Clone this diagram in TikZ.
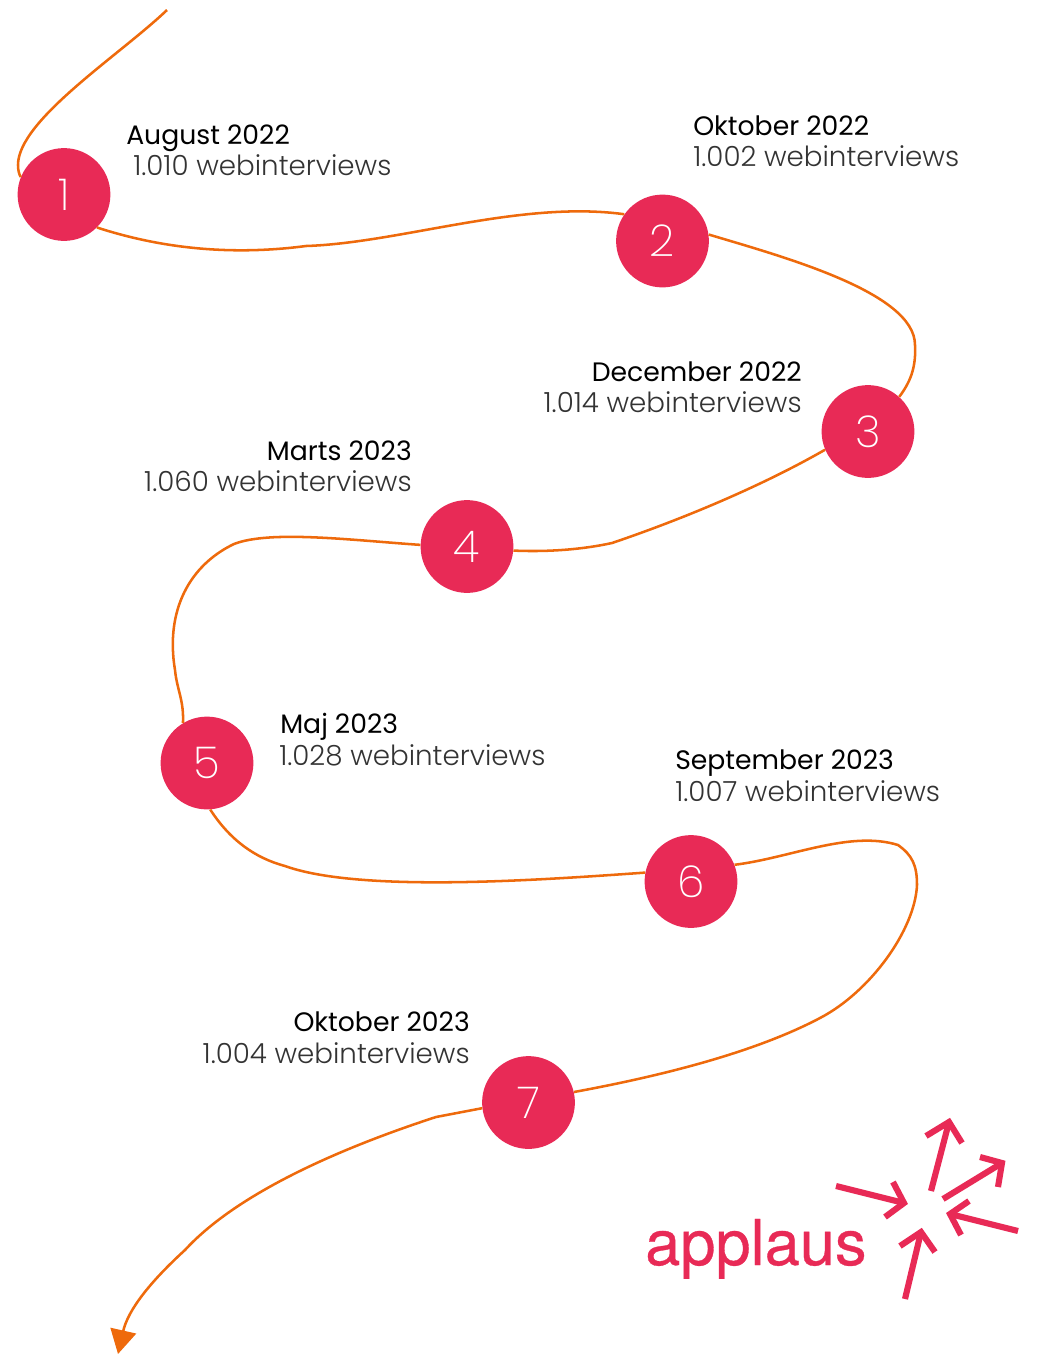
\documentclass[tikz,border=0pt]{standalone}
\usepackage{fontspec}
\setmainfont{Poppins}
\newfontfamily\lightfont{Poppins Light}
\newfontfamily\thinfont{Poppins ExtraLight}
\newfontfamily\logofont[FakeBold=0.5]{TeX Gyre Heros}
\usetikzlibrary{arrows.meta}
\definecolor{stoppink}{HTML}{E82A56}
\definecolor{routeorange}{HTML}{EE6A0C}
\definecolor{countgray}{HTML}{333333}
\tikzset{
  stopnode/.style={circle,fill=stoppink,text=white,minimum size=69.6pt,inner sep=0pt,
    font=\thinfont\fontsize{33}{33}\selectfont},
  route/.style={color=routeorange,line width=1.9pt},
  datelabel/.style={inner sep=0pt,text=black,font=\fontsize{20}{20}\selectfont},
  countlabel/.style={inner sep=0pt,text=countgray,font=\lightfont\fontsize{20.8}{20.8}\selectfont},
  logoarrow/.style={draw=stoppink,line width=4.6pt,miter limit=10}
}
\begin{document}
\begin{tikzpicture}[x=0.75pt,y=-0.75pt]
   \useasboundingbox (0,0) rectangle (1038,1354);

   \node[stopnode] (s1) at (64,194.5) {1};
   \node[stopnode] (s2) at (662.5,241) {2};
   \node[stopnode] (s3) at (868,431.5) {3};
   \node[stopnode] (s4) at (467,546.5) {4};
   \node[stopnode] (s5) at (207,763) {5};
   \node[stopnode] (s6) at (691,881.5) {6};
   \node[stopnode] (s7) at (528.5,1102.5) {7};
   \coordinate (top) at (167,10);
   \coordinate (bottom) at (118,1354);

   \draw[route] (top) .. controls (120,55) and (18,120) .. (18,165)
   .. controls (18,170) and (19,174) .. (s1.158);
   \draw[route] (s1.-45) .. controls (160,248) and (230,256) .. (306,246)
   .. controls (400,243) and (520,200) .. (s2.145);
   \draw[route] (s2.8) .. controls (780,256) and (915,292) .. (915,345)
   .. controls (916,365) and (912,380) .. (s3.48);
   \draw[route] (s3.203) .. controls (760,487) and (680,520) .. (612,543)
   .. controls (580,550) and (545,552) .. (s4.-5);
   \draw[route] (s4.178) .. controls (350,540) and (270,530) .. (234,544)
   .. controls (190,565) and (165,610) .. (175,670)
   .. controls (177,690) and (184,700) .. (s5.121);
   \draw[route] (s5.-86) .. controls (230,840) and (255,858) .. (285,866)
   .. controls (360,893) and (540,880) .. (s6.169);
   \draw[route] (s6.21) .. controls (790,858) and (850,830) .. (898,845)
   .. controls (912,855) and (917,865) .. (917,885)
   .. controls (915,930) and (870,992) .. (820,1018)
   .. controls (750,1055) and (650,1078) .. (s7.13);
   \draw[route,-{Triangle[length=18pt,width=19.5pt]}] (s7.187) -- (436,1117)
   .. controls (350,1145) and (240,1190) .. (185,1250)
   .. controls (150,1282) and (128,1310) .. (bottom);

   \node[datelabel,anchor=base west] (d1) at (126,144) {August 2022};
   \node[countlabel,anchor=base west] (c1) at (133,175) {1.010 webinterviews};
   \node[datelabel,anchor=base west] (d2) at (693,135) {Oktober 2022};
   \node[countlabel,anchor=base west] (c2) at (693,166) {1.002 webinterviews};
   \node[datelabel,anchor=base east] (d3) at (802,381) {December 2022};
   \node[countlabel,anchor=base east] (c3) at (802,412) {1.014 webinterviews};
   \node[datelabel,anchor=base east] (d4) at (412,460) {Marts 2023};
   \node[countlabel,anchor=base east] (c4) at (412,491) {1.060 webinterviews};
   \node[datelabel,anchor=base west] (d5) at (280,733) {Maj 2023};
   \node[countlabel,anchor=base west] (c5) at (279,765) {1.028 webinterviews};
   \node[datelabel,anchor=base west] (d6) at (675,769) {September 2023};
   \node[countlabel,anchor=base west] (c6) at (675,801) {1.007 webinterviews};
   \node[datelabel,anchor=base east] (d7) at (470,1031) {Oktober 2023};
   \node[countlabel,anchor=base east] (c7) at (470,1063) {1.004 webinterviews};

   % logo
   \node[inner sep=0pt,anchor=base west,text=stoppink,font=\logofont\fontsize{47.4}{47.4}\selectfont]
   (logo) at (645,1265) {applaus};
   \draw[logoarrow] (931,1191) -- (949,1122);
   \draw[logoarrow] (926,1136) -- (949,1122) -- (962,1143);
   \draw[logoarrow] (943,1199) -- (1002,1163);
   \draw[logoarrow] (980,1157) -- (1002,1163) -- (998,1187);
   \draw[logoarrow] (836,1186) -- (904,1203);
   \draw[logoarrow] (893,1182) -- (904,1203) -- (885,1217);
   \draw[logoarrow] (1018,1231) -- (950,1214);
   \draw[logoarrow] (969,1201) -- (950,1214) -- (961,1235);
   \draw[logoarrow] (905,1299) -- (921,1232);
   \draw[logoarrow] (900,1246) -- (921,1232) -- (935,1252);
 \end{tikzpicture}
\end{document}
